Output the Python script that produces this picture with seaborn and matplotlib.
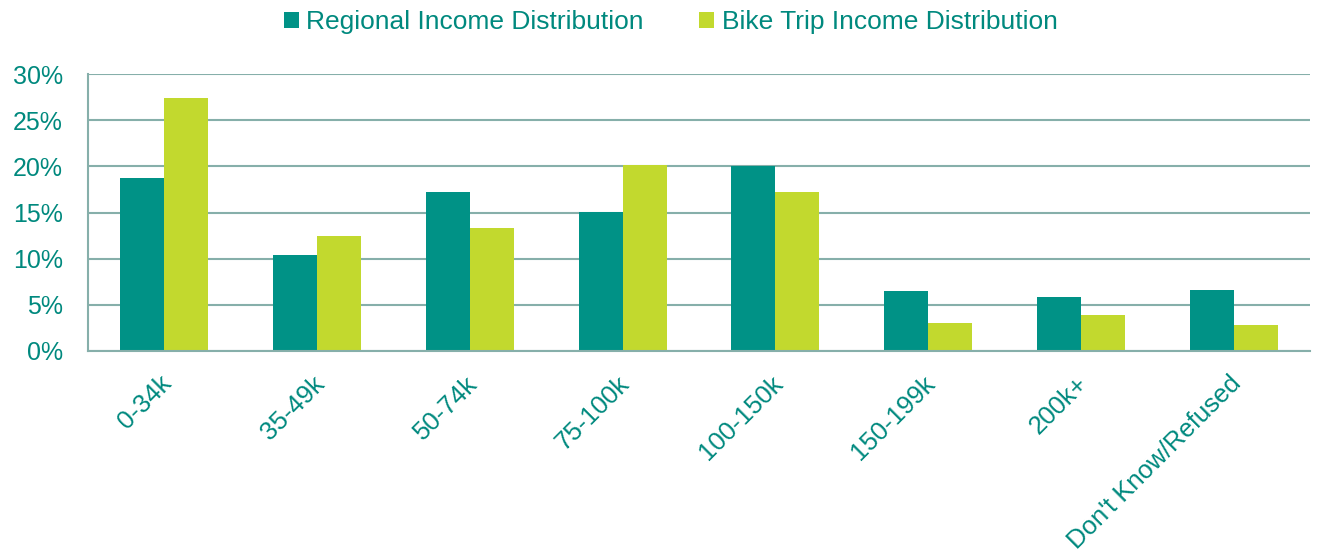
import matplotlib
matplotlib.use("Agg")
import matplotlib.pyplot as plt
from matplotlib.patches import Patch
from matplotlib.ticker import FixedLocator, PercentFormatter
from matplotlib.transforms import ScaledTranslation
import seaborn as sns
import pandas as pd
import numpy as np

categories = ["0-34k", "35-49k", "50-74k", "75-100k", "100-150k", "150-199k", "200k+", "Don't Know/Refused"]
regional = [18.7, 10.4, 17.2, 15.1, 20.0, 6.5, 5.8, 6.6]
bike = [27.4, 12.5, 13.3, 20.1, 17.2, 3.0, 3.9, 2.8]
series_names = ["Regional Income Distribution", "Bike Trip Income Distribution"]

teal = "#009286"
lime = "#C2D92E"
grid_c = "#86AFAA"
text_c = "#00897E"

df = pd.DataFrame({
    "cat": categories * 2,
    "val": regional + bike,
    "series": [series_names[0]] * len(categories) + [series_names[1]] * len(categories),
})

sns.set_theme(style="white")
plt.rcParams["font.family"] = ["Liberation Sans", "DejaVu Sans"]

fig = plt.figure(figsize=(13.18, 5.56), dpi=100)
ax = fig.add_axes([88/1318, 1-351/556, (1310-88)/1318, (351-74)/556])

sns.barplot(data=df, x="cat", y="val", hue="series", order=categories,
            hue_order=series_names, palette=[teal, lime], width=0.576,
            saturation=1, ax=ax, legend=False, linewidth=0, edgecolor="none")

ax.set_xlim(-0.5, len(categories) - 0.5)
ax.set_ylim(0, 30)
ax.set_yticks(np.arange(0, 31, 5))
ax.yaxis.set_major_formatter(PercentFormatter(decimals=0))
ax.set_axisbelow(True)
ax.yaxis.grid(True, color=grid_c, linewidth=1.5)
ax.xaxis.grid(False)
for s in ["top", "right"]:
    ax.spines[s].set_visible(False)
for s in ["left", "bottom"]:
    ax.spines[s].set_color(grid_c)
    ax.spines[s].set_linewidth(1.5)

ax.set_xlabel("")
ax.set_ylabel("")
ax.xaxis.set_minor_locator(FixedLocator(np.arange(-0.5, len(categories), 1.0)))
ax.tick_params(axis="x", which="major", length=0, pad=14, labelsize=18.5, labelcolor=text_c)
ax.tick_params(axis="x", which="minor", length=8, width=1.5, color=grid_c, direction="out")
ax.tick_params(axis="y", which="major", length=8, width=1.5, color=grid_c, direction="out",
               labelsize=18, labelcolor=text_c, pad=10)
offset = ScaledTranslation(-5/100, -1/100, fig.dpi_scale_trans)
for lbl in ax.get_xticklabels():
    lbl.set_rotation(45)
    lbl.set_ha("right")
    lbl.set_rotation_mode("anchor")
    lbl.set_transform(lbl.get_transform() + offset)

handles = [Patch(facecolor=teal, edgecolor="none"), Patch(facecolor=lime, edgecolor="none")]
leg = fig.legend(handles, series_names, loc="upper center", bbox_to_anchor=(0.509, 1.024),
                 ncol=2, frameon=False, fontsize=19, handlelength=0.55, handleheight=0.55,
                 handletextpad=0.3, columnspacing=2.1)
for t in leg.get_texts():
    t.set_color(text_c)

fig.savefig("out.png", dpi=100)
